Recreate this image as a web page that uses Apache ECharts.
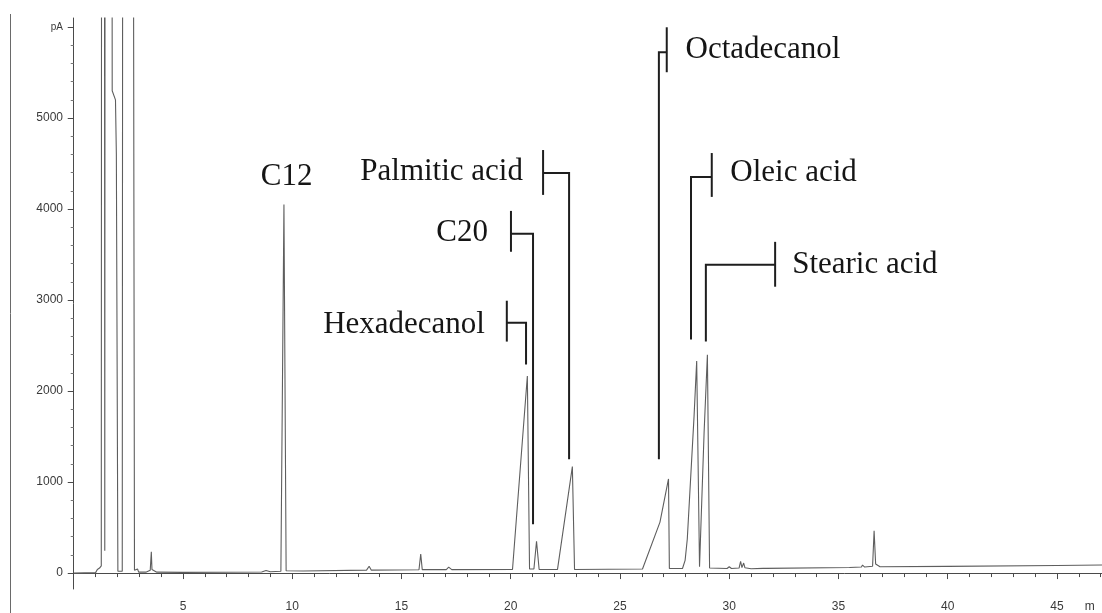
<!DOCTYPE html>
<html>
<head>
<meta charset="utf-8">
<title>GC chromatogram</title>
<script src="https://cdn.jsdelivr.net/npm/echarts@6.0.0/dist/echarts.min.js"></script>
<style>
  html, body { margin: 0; padding: 0; background: #ffffff; }
  #chart { width: 1102px; height: 613px; }
</style>
</head>
<body>
<div id="chart"></div>
<script>
// Detector trace: retention time (min) and signal (pA)
const traceTime = [
  0, 1.00, 1.08, 1.18, 1.26, 1.28, 1.40, 1.42, 1.44, 1.74, 1.76, 1.91, 1.95, 2.02, 2.22, 2.25,
  2.70, 2.78, 2.85, 2.92, 2.97, 3.30, 3.50, 3.55, 3.58, 3.64, 3.80, 5.00, 8.60, 8.80, 9.00,
  9.48, 9.62, 9.72, 10.50, 13.40, 13.52, 13.62, 15.80, 15.88, 15.95, 17.05, 17.16, 17.30,
  20.08, 20.76, 20.86, 21.06, 21.18, 21.30, 22.14, 22.82, 22.92, 26.03, 26.83, 27.22, 27.26,
  27.86, 27.98, 28.08, 28.39, 28.51, 28.64, 28.72, 28.85, 29.00, 29.10, 29.90, 30.00, 30.10,
  30.45, 30.52, 30.58, 30.66, 30.72, 31.00, 31.55, 31.62, 31.70, 35.50, 36.05, 36.10, 36.20,
  36.56, 36.63, 36.70, 36.90, 40.00, 45.00, 47.06
];
const tracePA = [
  0, 5, 40, 55, 80, 12000, 12000, 245, 12000, 12000, 5300, 5200, 4600, 20, 20, 12000,
  12000, 30, 15, 45, 10, 10, 30, 235, 40, 25, 10, 8, 12, 28, 15,
  20, 4050, 25, 22, 32, 75, 32, 36, 210, 38, 38, 65, 38,
  40, 2165, 45, 45, 350, 40, 40, 1170, 40, 45, 560, 1035, 50,
  50, 140, 375, 1725, 2330, 70, 70, 1550, 2400, 55, 50, 70, 50,
  55, 130, 60, 110, 58, 48, 52, 72, 52, 62, 66, 88, 66,
  75, 465, 100, 70, 74, 84, 88
];

// Axis ticks
const yTickValues = [0, 1000, 2000, 3000, 4000, 5000, 6000];
const yTickLabels = ['0', '1000', '2000', '3000', '4000', '5000', 'pA'];
const yMinorTicks = [];
for (let v = 200; v < 6000; v += 200) { if (v % 1000 !== 0) yMinorTicks.push(v); }
const xTickValues = [5, 10, 15, 20, 25, 30, 35, 40, 45];
const xUnitPosition = 46.5;
const xUnitLabel = 'm';
const xMinorTicks = [];
for (let t = 1; t <= 47; t += 1) { if (t % 5 !== 0) xMinorTicks.push(t); }

// Peak names (time / pA of the text anchor)
const labelNames = ['C12', 'Hexadecanol', 'C20', 'Palmitic acid', 'Octadecanol', 'Oleic acid', 'Stearic acid'];
const labelTime = [9.74, 18.82, 18.96, 20.56, 28.00, 30.05, 32.88];
const labelValue = [4353, 2730, 3739, 4408, 5746, 4397, 3388];
const labelAlign = ['center', 'right', 'right', 'right', 'left', 'left', 'left'];

// Leader brackets from each name to its peak
const bracketTime = [19.82, 20.01, 21.48, 27.14, 29.20, 32.10];
const bracketLow = [2544, 3531, 4156, 5504, 4134, 3147];
const bracketHigh = [2993, 3980, 4649, 5998, 4616, 3640];
const bracketArm = [2752, 3728, 4397, 5724, 4353, 3388];
const leaderTime = [20.70, 21.02, 22.67, 26.78, 28.25, 28.93];
const leaderEnd = [2292, 537, 1250, 1250, 2566, 2544];

const chart = echarts.init(document.getElementById('chart'), null, { renderer: 'canvas' });

const axisColor = '#4a4a4a';
const labelFont = { color: '#3a3a3a', fontSize: 12, fontFamily: 'Liberation Sans, Arial, sans-serif' };

const option = {
  animation: false,
  backgroundColor: '#ffffff',
  grid: { left: 72, right: 0, top: 18, bottom: 23, containLabel: false },
  xAxis: [
    {
      type: 'value', min: -0.08, max: 47.06,
      axisLine: { show: true, lineStyle: { color: axisColor, width: 1 } },
      axisTick: { show: true, customValues: xTickValues, length: 6, lineStyle: { color: axisColor } },
      axisLabel: Object.assign({
        show: true, margin: 12,
        customValues: xTickValues.concat([xUnitPosition]),
        formatter: v => (Math.abs(v - xUnitPosition) < 1e-6 ? xUnitLabel : String(v))
      }, labelFont),
      splitLine: { show: false }
    },
    {
      type: 'value', min: -0.08, max: 47.06, position: 'bottom',
      axisLine: { show: false },
      axisTick: { show: true, customValues: xMinorTicks, length: 4, lineStyle: { color: axisColor } },
      axisLabel: { show: false },
      splitLine: { show: false }
    }
  ],
  yAxis: [
    {
      type: 'value', min: -175, max: 6100,
      axisLine: { show: true, lineStyle: { color: axisColor, width: 1 } },
      axisTick: { show: true, customValues: yTickValues, length: 6, lineStyle: { color: axisColor } },
      axisLabel: Object.assign({
        show: true, margin: 9,
        customValues: yTickValues,
        formatter: v => {
          const i = yTickValues.indexOf(v);
          return i === yTickValues.length - 1 ? '{u|' + yTickLabels[i] + '}' : yTickLabels[i];
        },
        rich: { u: { fontSize: 10, color: '#3a3a3a', fontFamily: 'Liberation Sans, Arial, sans-serif' } }
      }, labelFont),
      splitLine: { show: false }
    },
    {
      type: 'value', min: -175, max: 6100, position: 'left',
      axisLine: { show: false },
      axisTick: { show: true, customValues: yMinorTicks, length: 3, lineStyle: { color: '#777' } },
      axisLabel: { show: false },
      splitLine: { show: false }
    }
  ],
  graphic: [
    {
      type: 'line', silent: true,
      shape: { x1: 10.5, y1: 14, x2: 10.5, y2: 613 },
      style: { stroke: '#6a6a6a', lineWidth: 1 }
    }
  ],
  series: [
    {
      name: 'FID',
      type: 'line',
      xAxisIndex: 0, yAxisIndex: 0,
      data: traceTime.map((t, i) => [t, tracePA[i]]),
      showSymbol: false,
      symbol: 'none',
      clip: true,
      lineStyle: { color: '#5e5e5e', width: 1.1 },
      z: 3
    },
    {
      name: 'brackets',
      type: 'custom',
      xAxisIndex: 0, yAxisIndex: 0,
      clip: false,
      data: bracketTime.map((t, i) => [t, bracketArm[i], i]),
      renderItem: (params, api) => {
        const i = api.value(2);
        const barTop = api.coord([bracketTime[i], bracketHigh[i]]);
        const barBottom = api.coord([bracketTime[i], bracketLow[i]]);
        const armStart = api.coord([bracketTime[i], bracketArm[i]]);
        const elbow = api.coord([leaderTime[i], bracketArm[i]]);
        const end = api.coord([leaderTime[i], leaderEnd[i]]);
        const stroke = { stroke: '#1e1e1e', lineWidth: 2, fill: null };
        return {
          type: 'group',
          children: [
            { type: 'polyline', shape: { points: [barTop, barBottom] }, style: stroke },
            { type: 'polyline', shape: { points: [armStart, elbow, end] }, style: stroke }
          ]
        };
      },
      z: 4
    },
    {
      name: 'names',
      type: 'custom',
      xAxisIndex: 0, yAxisIndex: 0,
      clip: false,
      data: labelTime.map((t, i) => [t, labelValue[i], i]),
      renderItem: (params, api) => {
        const i = api.value(2);
        const p = api.coord([labelTime[i], labelValue[i]]);
        return {
          type: 'text',
          x: p[0], y: p[1],
          style: {
            text: labelNames[i],
            fill: '#151515',
            fontSize: 31,
            fontFamily: '"Liberation Serif", "Times New Roman", serif',
            align: labelAlign[i],
            verticalAlign: 'middle',
            textAlign: labelAlign[i],
            textVerticalAlign: 'middle'
          }
        };
      },
      z: 5
    }
  ]
};

chart.setOption(option);
</script>
</body>
</html>
